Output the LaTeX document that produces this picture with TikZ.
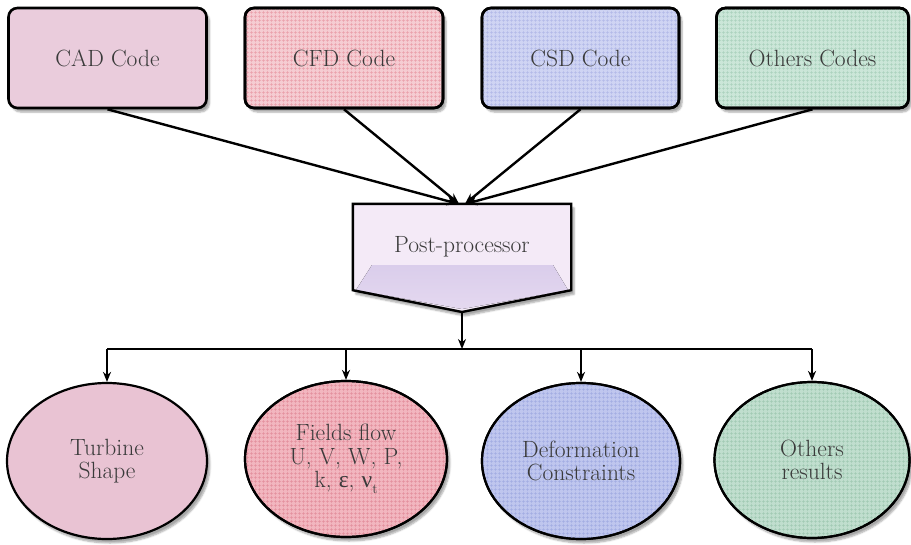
\documentclass[tikz,border=0pt]{standalone}
\usepackage{fontspec}
\newfontfamily\greekfont{Liberation Serif}
\usetikzlibrary{arrows.meta,shadows.blur,patterns.meta,shapes.geometric}

\definecolor{textgray}{HTML}{3A3A3A}
\definecolor{cadfill}{HTML}{EACCDC}
\definecolor{cfdfill}{HTML}{F5CCD2}
\definecolor{cfdgrid}{HTML}{EA9EAA}
\definecolor{csdfill}{HTML}{CFD4F3}
\definecolor{csdgrid}{HTML}{B2B9E8}
\definecolor{othfill}{HTML}{CBE6D8}
\definecolor{othgrid}{HTML}{AAD2BD}
\definecolor{turbfill}{HTML}{E9C3D3}
\definecolor{flowfill}{HTML}{F2B6BF}
\definecolor{flowgrid}{HTML}{E38F9C}
\definecolor{defofill}{HTML}{BFC6EE}
\definecolor{defogrid}{HTML}{A2ACE2}
\definecolor{resfill}{HTML}{C0DECE}
\definecolor{resgrid}{HTML}{A0CAB3}
\definecolor{ppfill}{HTML}{F4EAF7}
\definecolor{ppbevel}{HTML}{DACDEB}

\begin{document}
\begin{tikzpicture}[x=1pt,y=-1pt,
  txt/.style={text=textgray, font=\fontsize{23.5}{23.5}\selectfont, align=center},
  softshadow/.style={blur shadow={shadow xshift=3pt, shadow yshift=-4pt,
      shadow blur steps=6, shadow opacity=35}},
  codebox/.style={txt, draw=black, line width=2.6pt, rounded corners=9pt,
      minimum width=#1, minimum height=100pt, inner sep=0pt, softshadow},
  resultnode/.style={txt, ellipse, draw=black, line width=2.2pt,
      minimum width=#1, minimum height=156pt, inner sep=0pt, softshadow},
  gridfill/.style={postaction={pattern={Hatch[angle=0,distance=4pt,line width=0.6pt]},
      pattern color=#1}},
  reborder/.style={postaction={draw=black, line width=#1}},
  conn/.style={line width=2.4pt, -{Stealth[length=11pt,width=9pt]}},
  busline/.style={line width=2pt},
  drop/.style={line width=2pt, -{Stealth[length=10pt,width=8pt]}}
]
\useasboundingbox (0,0) rectangle (911,544);

% source codes
\node[codebox=198pt, fill=cadfill] (cad) at (107.5,58) {CAD Code};
\node[codebox=198pt, fill=cfdfill, gridfill=cfdgrid, reborder=2.6pt] (cfd) at (344,58) {CFD Code};
\node[codebox=197pt, fill=csdfill, gridfill=csdgrid, reborder=2.6pt] (csd) at (580.5,58) {CSD Code};
\node[codebox=192pt, fill=othfill, gridfill=othgrid, reborder=2.6pt] (oth) at (812.5,58) {Others Codes};

% post-processor: box outline first, then its pointed body, then the label
\node[minimum width=218pt, minimum height=86pt, inner sep=0pt] (pp) at (462,247) {};
\coordinate (pptip) at (462,312);
\fill[ppfill, softshadow] (pp.north west) -- (pp.north east) -- (pp.south east)
   -- (pptip) -- (pp.south west) -- cycle;
\fill[top color=ppbevel, bottom color=ppbevel!60!ppfill]
   (372,265) -- (553,265) -- (568,290) -- (462,309) -- (356,290) -- cycle;
\draw[line width=2.4pt, line join=miter] (pp.north west) -- (pp.north east) -- (pp.south east)
   -- (pptip) -- (pp.south west) -- cycle;
\node[txt] (pplabel) at (pp.center) {Post-processor};

\draw[conn] (cad.south) -- ([xshift=-4pt]pp.north);
\draw[conn] (cfd.south) -- ([xshift=-3pt]pp.north);
\draw[conn] (csd.south) -- ([xshift=3pt]pp.north);
\draw[conn] (oth.south) -- ([xshift=4pt]pp.north);

% results
\node[resultnode=200pt, fill=turbfill] (turb) at (107,461) {Turbine\\Shape};
\node[resultnode=202pt, fill=flowfill, gridfill=flowgrid, reborder=2.2pt] (flow) at (346,459)
  {Fields flow\\U, V, W, P,\\k, {\greekfont ε}, {\greekfont ν}\raisebox{-0.25em}{\fontsize{14}{14}\selectfont t}};
\node[resultnode=198pt, fill=defofill, gridfill=defogrid, reborder=2.2pt] (defo) at (581,461)
  {Deformation\\Constraints};
\node[resultnode=195pt, fill=resfill, gridfill=resgrid, reborder=2.2pt] (othr) at (812,460)
  {Others\\results};

% distribution bus
\coordinate (bus) at (462,349);
\draw[drop] (pptip) -- (bus);
\draw[busline] (turb.north |- bus) -- (othr.north |- bus);
\foreach \n in {turb,flow,defo,othr}
  \draw[drop] (\n.north |- bus) -- (\n.north);
\end{tikzpicture}
\end{document}
